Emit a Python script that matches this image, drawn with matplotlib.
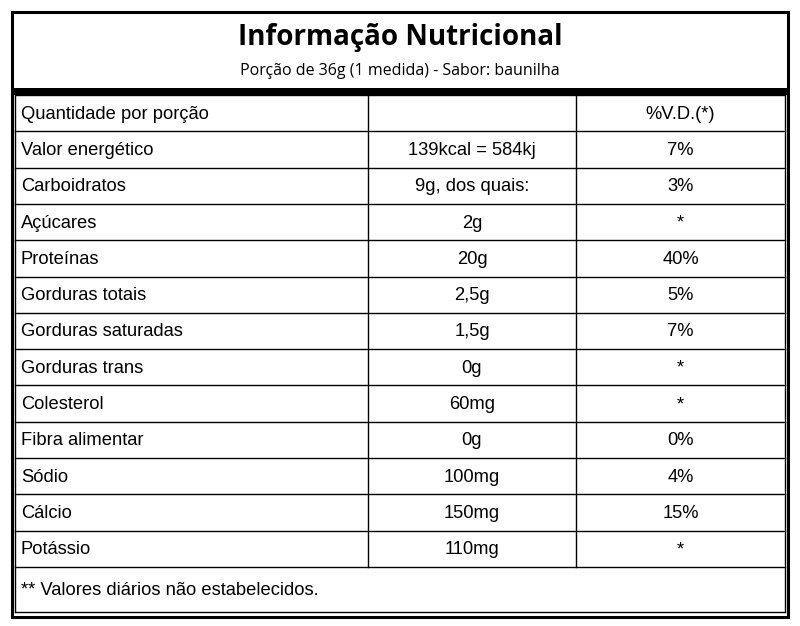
import matplotlib
matplotlib.use("Agg")
import matplotlib.pyplot as plt

title = "Informação Nutricional"
subtitle = "Porção de 36g (1 medida) - Sabor: baunilha"
header = ["Quantidade por porção", "", "%V.D.(*)"]
nutrients = ["Valor energético", "Carboidratos", "Açúcares", "Proteínas", "Gorduras totais",
             "Gorduras saturadas", "Gorduras trans", "Colesterol", "Fibra alimentar",
             "Sódio", "Cálcio", "Potássio"]
amounts = ["139kcal = 584kj", "9g, dos quais:", "2g", "20g", "2,5g", "1,5g", "0g", "60mg",
           "0g", "100mg", "150mg", "110mg"]
vd = ["7%", "3%", "*", "40%", "5%", "7%", "*", "*", "0%", "4%", "15%", "*"]
footnote = "** Valores diários não estabelecidos."

fig = plt.figure(figsize=(8, 6.26), dpi=100)
ax = fig.add_axes([0, 0, 1, 1])
ax.set_xlim(0, 800); ax.set_ylim(626, 0); ax.axis("off")

L, R, T, B = 12, 788, 12, 617
ax.add_patch(plt.Rectangle((L, T), R - L, B - T, fill=False, lw=2.2, ec="black"))
ax.add_patch(plt.Rectangle((L, 88), R - L, 7, color="black", lw=0))
ax.text(400, 38, title, ha="center", va="center", fontsize=20, fontweight="bold", family="Open Sans")
ax.text(400, 71, subtitle, ha="center", va="center", fontsize=11.5, family="Open Sans")

tl, tr = 15, 785
c1, c2 = 368, 576
top = 95
h = 36.3
rows = [header] + list(zip(nutrients, amounts, vd))
nb = len(rows)
bottom = top + nb * h
for i in range(nb + 1):
    y = top + i * h
    ax.plot([tl, tr], [y, y], color="black", lw=1)
ax.plot([tl, tl], [top, B - 5], color="black", lw=1)
ax.plot([tr, tr], [top, B - 5], color="black", lw=1)
ax.plot([tl, tr], [B - 5, B - 5], color="black", lw=1)
for x in (c1, c2):
    ax.plot([x, x], [top, bottom], color="black", lw=1)

fs = 13.2
for i, (a, b, c) in enumerate(rows):
    yc = top + (i + 0.5) * h + 1
    ax.text(21, yc, a, ha="left", va="center", fontsize=fs, family="Liberation Sans")
    ax.text((c1 + c2) / 2, yc, b, ha="center", va="center", fontsize=fs, family="Liberation Sans")
    ax.text((c2 + tr) / 2, yc, c, ha="center", va="center", fontsize=fs, family="Liberation Sans")
ax.text(21, (bottom + B - 5) / 2 + 1, footnote, ha="left", va="center", fontsize=fs, family="Liberation Sans")

fig.savefig("out.png", dpi=100)
